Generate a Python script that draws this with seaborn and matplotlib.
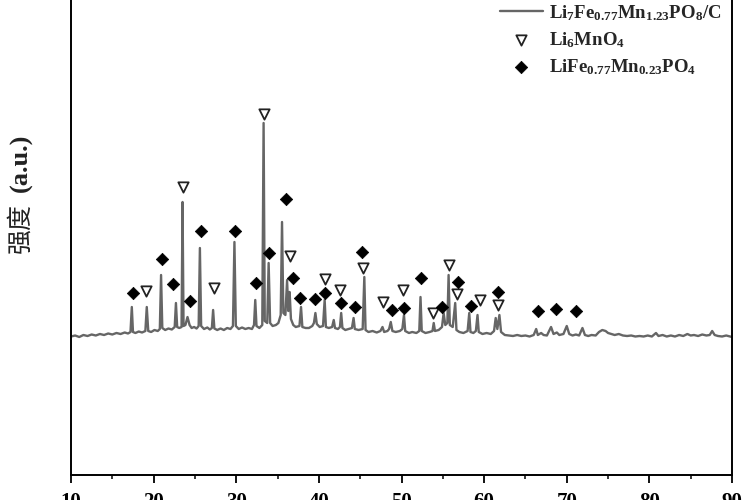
import matplotlib
matplotlib.use("Agg")
import matplotlib.pyplot as plt
import seaborn as sns
import pandas as pd

# ---- data: XRD trace vertices (2theta, intensity a.u.) ----
two_theta = [
    10.0, 10.5, 11.0, 11.5, 12.0, 12.5, 13.0, 13.5, 14.0, 14.5, 15.0, 15.5, 16.0, 16.5, 16.9, 17.2,
    17.36, 17.5, 17.8, 18.2, 18.6, 19.0, 19.17, 19.35, 19.7, 20.1, 20.5, 20.75, 20.9, 21.05, 21.4,
    21.8, 22.2, 22.55, 22.7, 22.85, 23.1, 23.38, 23.5, 23.62, 23.85, 24.1, 24.35, 24.6, 24.9, 25.2,
    25.45, 25.6, 25.75, 26.1, 26.5, 26.8, 27.05, 27.2, 27.35, 27.7, 28.1, 28.5, 28.9, 29.3, 29.6,
    29.78, 29.95, 30.3, 30.7, 31.1, 31.5, 31.9, 32.15, 32.3, 32.45, 32.8, 33.15, 33.31, 33.45, 33.75,
    33.92, 34.1, 34.4, 34.8, 35.1, 35.38, 35.54, 35.7, 35.95, 36.15, 36.3, 36.46, 36.62, 36.9, 37.2,
    37.65, 37.84, 38.0, 38.4, 38.8, 39.2, 39.4, 39.58, 39.75, 40.1, 40.5, 40.7, 40.85, 41.2, 41.6,
    41.8, 41.95, 42.3, 42.55, 42.7, 42.85, 43.2, 43.6, 44.0, 44.2, 44.35, 44.8, 45.3, 45.5, 45.65,
    46.0, 46.5, 47.0, 47.45, 47.7, 47.9, 48.3, 48.5, 48.7, 48.9, 49.3, 49.8, 50.1, 50.3, 50.45, 50.9,
    51.3, 51.8, 52.15, 52.3, 52.45, 52.9, 53.4, 53.75, 53.9, 54.05, 54.5, 54.9, 55.1, 55.3, 55.55,
    55.7, 55.85, 56.2, 56.5, 56.65, 57.0, 57.5, 58.0, 58.2, 58.35, 58.7, 59.0, 59.2, 59.35, 59.8,
    60.3, 60.8, 61.2, 61.4, 61.6, 61.85, 62.05, 62.5, 63.0, 63.5, 64.0, 64.5, 65.0, 65.5, 66.0, 66.3,
    66.5, 66.9, 67.2, 67.6, 68.1, 68.4, 68.8, 69.1, 69.6, 70.0, 70.3, 70.7, 71.1, 71.5, 71.9, 72.2,
    72.6, 73.0, 73.5, 73.9, 74.3, 74.7, 75.0, 75.4, 75.8, 76.3, 76.8, 77.3, 77.8, 78.3, 78.8, 79.3,
    79.8, 80.3, 80.8, 81.1, 81.6, 82.1, 82.6, 83.1, 83.6, 84.1, 84.6, 85.0, 85.4, 85.9, 86.4, 86.9,
    87.3, 87.6, 87.9, 88.3, 88.8, 89.3, 89.8, 90.0,
]
intensity = [
    1385, 1395, 1380, 1400, 1390, 1405, 1395, 1410, 1400, 1415, 1405, 1420, 1410, 1425, 1415, 1430,
    1680, 1430, 1420, 1435, 1425, 1440, 1680, 1440, 1430, 1450, 1440, 1460, 2000, 1470, 1450,
    1465, 1455, 1480, 1720, 1480, 1470, 1480, 2730, 1490, 1500, 1580, 1500, 1470, 1480, 1465,
    1490, 2270, 1490, 1460, 1475, 1455, 1470, 1650, 1465, 1450, 1465, 1450, 1470, 1460, 1490,
    2330, 1490, 1460, 1475, 1460, 1470, 1460, 1500, 1750, 1490, 1470, 1500, 3520, 1540, 1520,
    2120, 1520, 1490, 1500, 1520, 1600, 2530, 1620, 1600, 1950, 1640, 1830, 1560, 1500, 1480,
    1490, 1680, 1480, 1470, 1470, 1490, 1520, 1620, 1510, 1480, 1490, 1750, 1480, 1470, 1480,
    1550, 1470, 1460, 1480, 1620, 1470, 1450, 1460, 1470, 1570, 1460, 1450, 1460, 1980, 1450,
    1430, 1440, 1425, 1440, 1480, 1430, 1440, 1460, 1530, 1440, 1430, 1440, 1460, 1600, 1440, 1420,
    1430, 1420, 1440, 1780, 1440, 1420, 1430, 1440, 1520, 1440, 1450, 1480, 1620, 1500, 1520,
    2000, 1500, 1480, 1720, 1450, 1430, 1420, 1440, 1620, 1430, 1420, 1440, 1600, 1430, 1410,
    1420, 1410, 1440, 1570, 1460, 1600, 1430, 1400, 1395, 1390, 1400, 1390, 1395, 1385, 1400, 1460,
    1400, 1420, 1400, 1395, 1480, 1410, 1425, 1400, 1410, 1490, 1410, 1395, 1405, 1395, 1470, 1400,
    1390, 1400, 1395, 1430, 1450, 1440, 1420, 1410, 1400, 1410, 1395, 1390, 1395, 1385, 1390, 1385,
    1395, 1385, 1420, 1390, 1400, 1385, 1395, 1385, 1400, 1390, 1410, 1395, 1400, 1390, 1405, 1395,
    1400, 1440, 1400, 1390, 1385, 1395, 1385, 1380,
]

# ---- phase markers ----
li6mno4_theta = [19.05, 23.6, 27.25, 33.31, 36.46, 40.8, 42.6, 45.36, 47.73, 50.2, 53.84,
                 55.73, 56.67, 59.5, 61.72]
li6mno4_int = [1840, 2880, 1870, 3610, 2190, 1960, 1850, 2070, 1730, 1850, 1620,
               2100, 1810, 1750, 1700]
lfmp_theta = [17.48, 21.07, 22.4, 24.42, 25.72, 29.88, 32.42, 33.92, 36.02, 36.87, 37.76,
              39.58, 40.75, 42.73, 44.42, 45.24, 48.87, 50.36, 52.39, 54.93, 56.82, 58.36,
              61.72, 66.57, 68.67, 71.09]
lfmp_int = [1820, 2160, 1910, 1740, 2440, 2440, 1920, 2220, 2760, 1970, 1770,
            1760, 1820, 1720, 1680, 2230, 1650, 1670, 1970, 1680, 1930, 1690,
            1830, 1640, 1660, 1640]

x_ticks = [10, 20, 30, 40, 50, 60, 70, 80, 90]
label_trace = r'Li$_7$Fe$_{0.77}$Mn$_{1.23}$PO$_8$/C'
label_tri = r'Li$_6$MnO$_4$'
label_dia = r'LiFe$_{0.77}$Mn$_{0.23}$PO$_4$'
y_label_cn = '强度'
y_label_unit = '(a.u.)'

sns.set_style("white")
plt.rcParams['font.family'] = ['Liberation Serif', 'Noto Sans CJK SC', 'DejaVu Sans']
plt.rcParams['mathtext.fontset'] = 'custom'
plt.rcParams['mathtext.rm'] = 'Liberation Serif:bold'
plt.rcParams['mathtext.it'] = 'Liberation Serif:bold'
plt.rcParams['mathtext.bf'] = 'Liberation Serif:bold'
plt.rcParams['mathtext.default'] = 'rm'

fig = plt.figure(figsize=(7.5, 5.0), dpi=100)
ax = fig.add_axes([71 / 750, 25 / 500, 661 / 750, 485 / 500])

trace = pd.DataFrame({'two_theta': two_theta, 'intensity': intensity})
sns.lineplot(data=trace, x='two_theta', y='intensity', ax=ax, color='#666666',
             linewidth=1.7, estimator=None, sort=False, label=label_trace)
sns.scatterplot(x=li6mno4_theta, y=li6mno4_int, ax=ax, marker='v', s=55,
                facecolor='white', edgecolor='#222222', linewidth=1.3, label=label_tri, zorder=3)
sns.scatterplot(x=lfmp_theta, y=lfmp_int, ax=ax, marker='D', s=40,
                color='black', edgecolor='black', linewidth=0.5, label=label_dia, zorder=3)

ax.set_xlim(10, 90)
ax.set_ylim(0, 4850)
ax.set_xticks(x_ticks)
ax.set_xticks([15, 25, 35, 45, 55, 65, 75, 85], minor=True)
ax.set_yticks([])
ax.tick_params(axis='x', which='major', direction='out', length=6, width=1.3,
               bottom=True, labelsize=15, pad=6, colors='black')
ax.tick_params(axis='x', which='minor', direction='out', length=3, width=1.3, bottom=True)
for lbl in ax.get_xticklabels():
    lbl.set_fontweight('bold')
ax.set_xlabel('')
ax.set_ylabel('')
for side in ['left', 'right', 'bottom', 'top']:
    ax.spines[side].set_color('black')
    ax.spines[side].set_linewidth(1.4)

# y-axis title: Chinese part + bold unit part
fig.text(20 / 750, 1 - 228 / 500, y_label_cn, rotation=90, ha='center', va='center',
         fontsize=18, family=['Noto Sans CJK SC', 'DejaVu Sans'], color='#222222')
fig.text(21 / 750, 1 - 163 / 500, y_label_unit, rotation=90, ha='center', va='center',
         fontsize=19, family='Liberation Serif', fontweight='bold', color='#222222')

leg = ax.legend(loc='upper right', bbox_to_anchor=((721 - 71) / 661, (475 - 3) / 485),
                frameon=False, borderaxespad=0.0, borderpad=0.0,
                prop={'family': 'Liberation Serif', 'weight': 'bold', 'size': 13.5},
                handlelength=2.3, handletextpad=0.3, labelspacing=0.4)

fig.savefig('out.png', dpi=100)
